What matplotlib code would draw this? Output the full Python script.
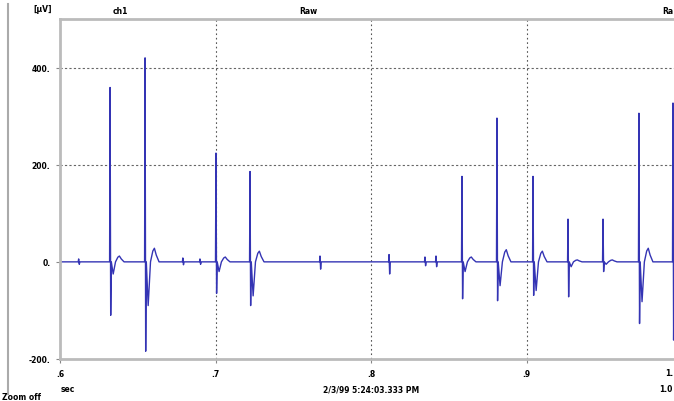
import matplotlib
matplotlib.use("Agg")
import matplotlib.pyplot as plt

# spike events: time (s), peak, trough, follow-up dip, follow-up bump (uV)
spike_t = [0.6322, 0.6547, 0.7003, 0.7222, 0.8585, 0.8810, 0.9042, 0.9267, 0.9492, 0.9723, 0.9942]
spike_hi = [359, 420, 224, 186, 176, 296, 176, 88, 88, 306, 327]
spike_lo = [-110, -184, -65, -90, -76, -80, -69, -72, -20, -127, -161]
dip_lo = [-25, -90, -20, -70, -20, -49, -59, -10, -5, -82, -60]
bump_hi = [12, 28, 10, 22, 10, 25, 22, 4, 4, 28, 18]

# small blips on the baseline
blip_t = [0.6120, 0.6790, 0.6900, 0.7672, 0.8116, 0.8347, 0.8418]
blip_hi = [6, 8, 6, 12, 15, 10, 12]
blip_lo = [-5, -6, -5, -15, -25, -8, -10]

yticks = [-200, 0, 200, 400]
ytick_labels = ["-200.", "0.", "200.", "400."]
xticks = [0.6, 0.7, 0.8, 0.9, 1.0]
xtick_labels = [".6", ".7", ".8", ".9", ""]

# build the polyline from the events
events = []
for t, hi, lo, d, b in zip(spike_t, spike_hi, spike_lo, dip_lo, bump_hi):
    events.append((t, [(-0.0003, 0), (0, hi), (0.0004, lo), (0.0008, 0),
                       (0.0020, d), (0.0035, 0), (0.0050, b * 0.8), (0.0060, b),
                       (0.0072, b * 0.5), (0.0090, 0)]))
for t, hi, lo in zip(blip_t, blip_hi, blip_lo):
    events.append((t, [(-0.0003, 0), (0, hi), (0.0004, lo), (0.0008, 0)]))
events.sort()

tt = [0.6]
vv = [0]
for t, pts in events:
    for dt, v in pts:
        tt.append(t + dt)
        vv.append(v)
tt.append(1.0)
vv.append(0)

fig = plt.figure(figsize=(6.74, 4.02), dpi=100)
W, H = 674, 402
x0, x1, y0, y1 = 60, 682, 20, 360
ax = fig.add_axes([x0 / W, 1 - y1 / H, (x1 - x0) / W, (y1 - y0) / H])

ax.plot(tt, vv, color="#3434b4", lw=1.0)
ax.set_xlim(0.6, 1.0)
ax.set_ylim(-200, 500)

ax.set_xticks(xticks)
ax.set_xticklabels(xtick_labels)
ax.set_yticks(yticks)
ax.set_yticklabels(ytick_labels)
ax.tick_params(labelsize=5.5, length=3, color="#888888", pad=4)
for lab in ax.get_xticklabels() + ax.get_yticklabels():
    lab.set_fontweight("bold")

for y in [200, 400]:
    ax.axhline(y, color="#666666", ls=(0, (2, 2)), lw=0.8, zorder=0)
for x in [0.7, 0.8, 0.9]:
    ax.axvline(x, color="#555555", ls=(0, (1.5, 2.5)), lw=0.8, zorder=0)

for s in ["left", "bottom", "top"]:
    ax.spines[s].set_color("#bbbbbb")
    ax.spines[s].set_linewidth(2)
ax.spines["right"].set_visible(False)

# header and footer texts
fs = 5.5
fig.text(43 / W, 1 - 9 / H, "[µV]", fontsize=fs, fontweight="bold", ha="center", va="center")
fig.text(120 / W, 1 - 12 / H, "ch1", fontsize=fs, fontweight="bold", ha="center", va="center")
fig.text(308 / W, 1 - 12 / H, "Raw", fontsize=fs, fontweight="bold", ha="center", va="center")
fig.text(673 / W, 1 - 12 / H, "Ra", fontsize=fs, fontweight="bold", ha="right", va="center")
fig.text(673 / W, 1 - 374 / H, "1.", fontsize=fs, fontweight="bold", ha="right", va="center")
fig.text(61 / W, 1 - 390 / H, "sec", fontsize=fs, fontweight="bold", ha="left", va="center")
fig.text(371 / W, 1 - 390 / H, "2/3/99 5:24:03.333 PM", fontsize=fs, fontweight="bold",
         ha="center", va="center")
fig.text(673 / W, 1 - 390 / H, "1.0", fontsize=fs, fontweight="bold", ha="right", va="center")
fig.text(2 / W, 1 - 398 / H, "Zoom off", fontsize=fs, fontweight="bold", ha="left", va="center")

# left frame line
fig.add_artist(plt.Line2D([8 / W, 8 / W], [1 - 395 / H, 1 - 5 / H], color="#aaaaaa", lw=1.5))

fig.savefig("out.png", dpi=100)
